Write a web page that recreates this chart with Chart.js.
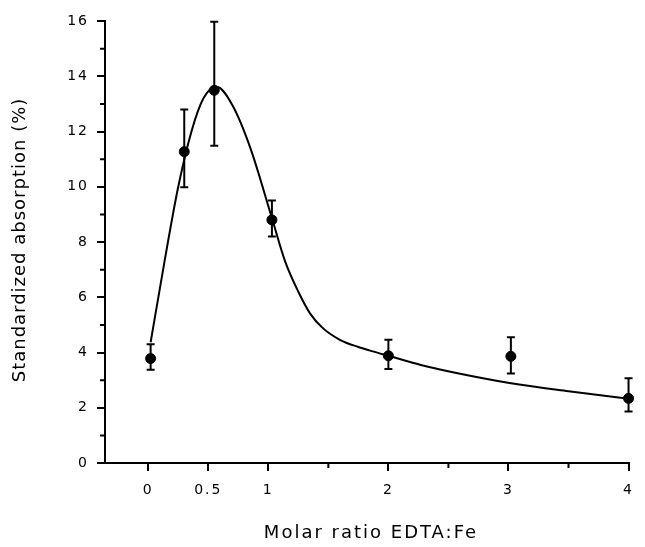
<!DOCTYPE html>
<html>
<head>
<meta charset="utf-8">
<script src="https://cdn.jsdelivr.net/npm/chart.js@4.4.1/dist/chart.umd.min.js"></script>
<style>
  html, body { margin: 0; padding: 0; background: #fff; }
  canvas { display: block; }
</style>
</head>
<body>
<canvas id="chart" width="645" height="547"></canvas>
<script>
// measured points (mean with error bar ends)
const ratio = [0.02, 0.3, 0.55, 1.03, 2.0, 3.02, 4.0];
const absorption = [3.78, 11.27, 13.49, 8.8, 3.88, 3.86, 2.34];
const errLow = [3.38, 9.98, 11.48, 8.2, 3.4, 3.24, 1.86];
const errHigh = [4.3, 12.8, 15.97, 9.5, 4.46, 4.55, 3.07];

// fitted curve
const curveX = [0.02, 0.12, 0.16, 0.25, 0.36, 0.46, 0.57, 0.7, 0.85, 1.03, 1.14, 1.25, 1.35, 1.45, 1.6, 1.75, 1.87, 2.0, 2.27, 2.68, 3.09, 3.5, 4.0];
const curveY = [4.37, 6.9, 7.9, 10.0, 12.0, 13.2, 13.62, 12.96, 11.41, 8.87, 7.3, 6.2, 5.4, 4.9, 4.45, 4.2, 4.04, 3.88, 3.55, 3.16, 2.84, 2.6, 2.33];

const xTicks = [0, 0.5, 1, 1.5, 2, 2.5, 3, 3.5, 4];
const xLabels = [0, 0.5, 1, 2, 3, 4];
const yTicks = [0, 1, 2, 3, 4, 5, 6, 7, 8, 9, 10, 11, 12, 13, 14, 15, 16];

const xTitle = 'Molar ratio EDTA:Fe';
const yTitle = 'Standardized absorption (%)';

const FONT = '"DejaVu Sans", "Liberation Sans", sans-serif';

// wider letters like the scanned figure
const spacing = {
  id: 'spacing',
  beforeUpdate(chart) { chart.ctx.letterSpacing = '2px'; },
  beforeDraw(chart) { chart.ctx.letterSpacing = '2px'; }
};

const errorBars = {
  id: 'errorBars',
  afterDatasetsDraw(chart) {
    const {ctx, scales: {x, y}} = chart;
    ctx.save();
    ctx.strokeStyle = '#000';
    ctx.lineWidth = 2;
    ctx.beginPath();
    ratio.forEach((r, i) => {
      const px = x.getPixelForValue(r);
      const top = y.getPixelForValue(errHigh[i]);
      const bottom = y.getPixelForValue(errLow[i]);
      ctx.moveTo(px, top);
      ctx.lineTo(px, bottom);
      ctx.moveTo(px - 4, top);
      ctx.lineTo(px + 4, top);
      ctx.moveTo(px - 4, bottom);
      ctx.lineTo(px + 4, bottom);
    });
    ctx.stroke();
    ctx.restore();
  }
};

// short minor ticks and the two axis titles
const axisExtras = {
  id: 'axisExtras',
  afterDraw(chart) {
    const {ctx, chartArea, scales: {x, y}} = chart;
    ctx.save();
    ctx.strokeStyle = '#000';
    ctx.lineWidth = 2;
    ctx.beginPath();
    yTicks.filter(v => v % 2).forEach(v => {
      const py = y.getPixelForValue(v);
      ctx.moveTo(chartArea.left, py);
      ctx.lineTo(chartArea.left - 5, py);
    });
    xTicks.filter(v => !xLabels.includes(v)).forEach(v => {
      const px = x.getPixelForValue(v);
      ctx.moveTo(px, chartArea.bottom);
      ctx.lineTo(px, chartArea.bottom + 5);
    });
    ctx.stroke();

    ctx.fillStyle = '#000';
    ctx.font = '18px ' + FONT;
    ctx.textAlign = 'center';
    ctx.textBaseline = 'middle';
    ctx.letterSpacing = '2px';
    ctx.fillText(xTitle, 371, 533);

    ctx.letterSpacing = '1px';
    ctx.translate(20, 240);
    ctx.rotate(-Math.PI / 2);
    ctx.fillText(yTitle, 0, 0);
    ctx.restore();
  }
};

new Chart(document.getElementById('chart'), {
  type: 'line',
  data: {
    datasets: [
      {
        label: 'fit',
        data: curveX.map((v, i) => ({x: v, y: curveY[i]})),
        borderColor: '#000',
        borderWidth: 2,
        pointRadius: 0,
        cubicInterpolationMode: 'monotone',
        fill: false
      },
      {
        label: 'measured',
        data: ratio.map((v, i) => ({x: v, y: absorption[i]})),
        showLine: false,
        pointRadius: 5,
        pointBackgroundColor: '#000',
        pointBorderColor: '#000',
        clip: false
      }
    ]
  },
  options: {
    responsive: false,
    animation: false,
    layout: {padding: {top: 21, right: 5, left: 0, bottom: 0}},
    plugins: {legend: {display: false}, tooltip: {enabled: false}},
    scales: {
      x: {
        type: 'linear',
        min: -0.36,
        max: 4,
        afterBuildTicks: s => { s.ticks = xTicks.map(v => ({value: v})); },
        afterFit: s => { s.height = 84; },
        ticks: {
          autoSkip: false,
          maxRotation: 0,
          padding: 11,
          color: '#000',
          font: {family: FONT, size: 14},
          callback: v => xLabels.includes(v) ? String(v) : ''
        },
        grid: {
          drawOnChartArea: false,
          tickLength: 8,
          lineWidth: 2,
          tickColor: c => c.tick && xLabels.includes(c.tick.value) ? '#000' : 'rgba(0,0,0,0)'
        },
        border: {color: '#000', width: 2}
      },
      y: {
        min: 0,
        max: 16,
        afterBuildTicks: s => { s.ticks = yTicks.map(v => ({value: v})); },
        afterFit: s => { s.width = 105; },
        ticks: {
          autoSkip: false,
          padding: 8,
          color: '#000',
          font: {family: FONT, size: 14},
          callback: v => v % 2 === 0 ? String(v) : ''
        },
        grid: {
          drawOnChartArea: false,
          tickLength: 8,
          lineWidth: 2,
          tickColor: c => c.tick && c.tick.value % 2 === 0 ? '#000' : 'rgba(0,0,0,0)'
        },
        border: {color: '#000', width: 2}
      }
    }
  },
  plugins: [spacing, errorBars, axisExtras]
});
</script>
</body>
</html>
